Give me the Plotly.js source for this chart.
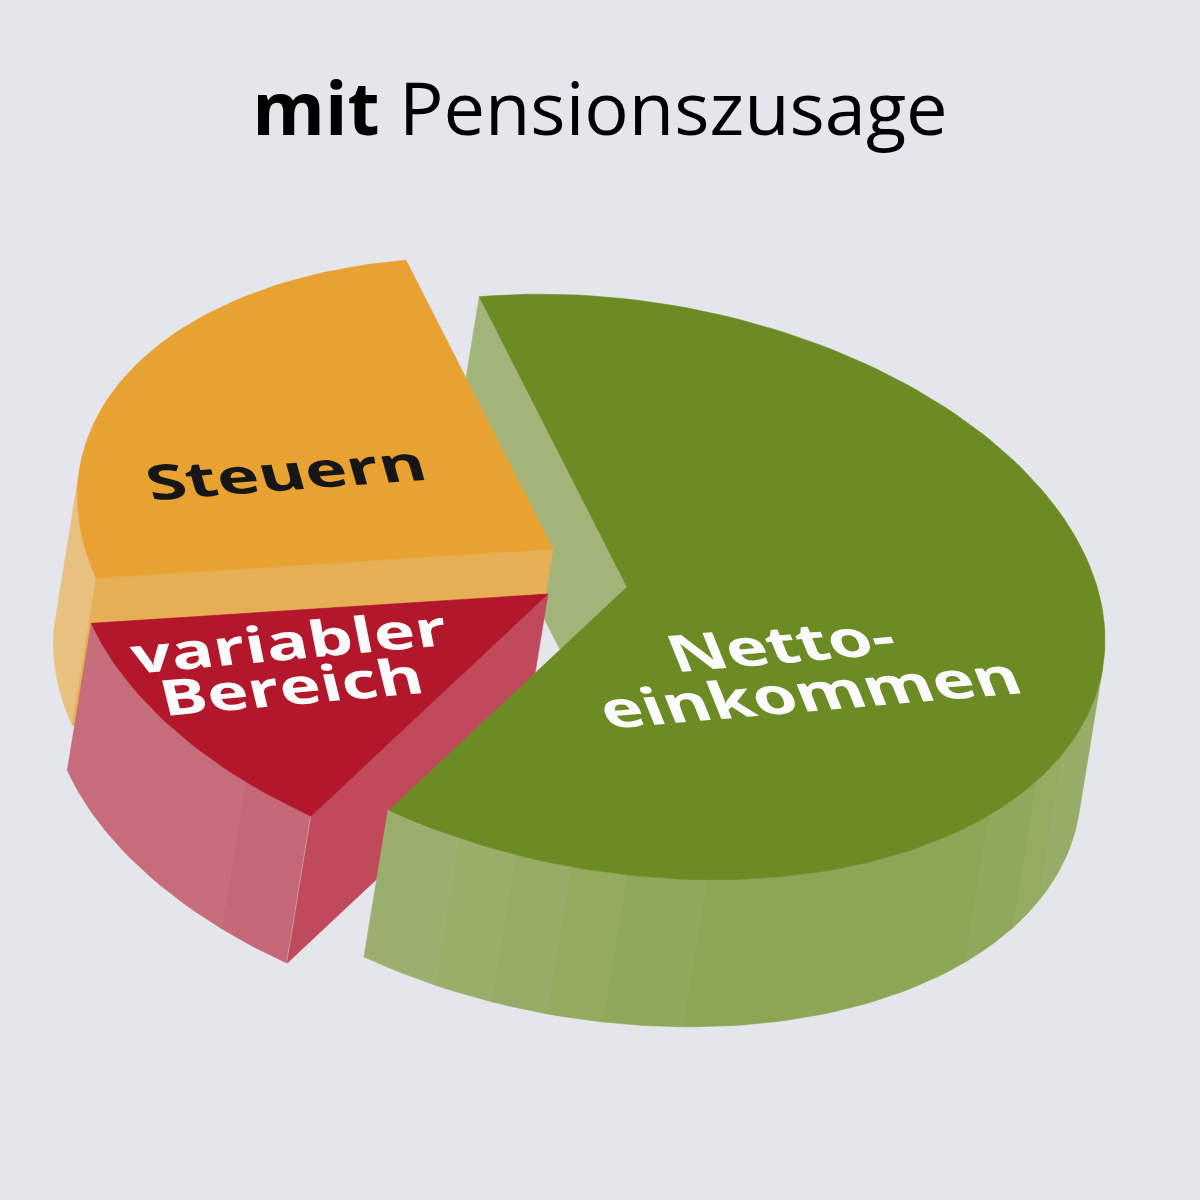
<!DOCTYPE html>
<html>
<head>
<meta charset="utf-8">
<script src="https://cdn.plot.ly/plotly-3.0.1.min.js"></script>
<style>html,body{margin:0;padding:0;background:#e4e6ec}</style>
</head>
<body>
<div id="chart" style="width:1200px;height:1200px"></div>
<script>
// Data
const sliceNames = ["Nettoeinkommen", "variabler Bereich", "Steuern"];
const sliceShares = [63.3, 12.2, 24.5];
const titleText = "<b>mit</b> Pensionszusage";
const labelLines = ["Steuern", "variabler", "Bereich", "Netto-", "einkommen"];
const labelColors = ["#161616", "#fbfbfb", "#fbfbfb", "#fbfbfb", "#fbfbfb"];

// Lighter facets of the green and red outer walls (rim angle in degrees, colour)
const greenFacetStops = [120, 110.7, 103.5, 96.8, 90, 80.4, 40.6, 30.9, 24, 5.5];
const greenFacetColors = ["#9cae6d", "#9aae6a", "#97ab66", "#93aa5f", "#90a85b", "#8da656", "#90a85b", "#94ab60", "#97ac66"];
const redFacetStops = [120, 129.6, 164];
const redFacetColors = ["#c46877", "#c76c7b"];

// Projection of the pie plane onto the picture
const U = [478, 53], V = [0, 288], DEPTH = [-24, 147];
const startAngle = -108;
const total = sliceShares.reduce((a, b) => a + b, 0);
const greenEnd = startAngle + 360 * sliceShares[0] / total;
const redEnd = greenEnd + 360 * sliceShares[1] / total;
const orangeEnd = redEnd + 360 * sliceShares[2] / total;

const centres = { green: [627, 587, 1], red: [548, 594, 0.995], orange: [553, 549, 0.995] };
const rad = d => d * Math.PI / 180;
const rim = (c, t) => [c[0] + c[2] * (U[0] * Math.cos(rad(t)) + V[0] * Math.sin(rad(t))),
                       c[1] + c[2] * (U[1] * Math.cos(rad(t)) + V[1] * Math.sin(rad(t)))];
const down = p => [p[0] + DEPTH[0], p[1] + DEPTH[1]];
function arc(c, a, b) {
  const n = Math.max(2, Math.ceil(Math.abs(b - a) / 1.5)), out = [];
  for (let i = 0; i <= n; i++) out.push(rim(c, a + (b - a) * i / n));
  return out;
}
function poly(points, color, name) {
  const pts = points.concat([points[0]]);
  return { type: "scatter", mode: "lines", x: pts.map(p => p[0]), y: pts.map(p => p[1]),
    fill: "toself", fillcolor: color, line: { color: color, width: 0.6 },
    hoverinfo: "skip", showlegend: false, name: name };
}
const topFace = (c, a, b, col, n) => poly([c.slice(0, 2)].concat(arc(c, a, b)), col, n);
const wall = (c, a, b, col, n) => { const t = arc(c, a, b); return poly(t.concat(t.slice().reverse().map(down)), col, n); };
const cut = (c, t, col, n) => { const p = rim(c, t), o = c.slice(0, 2); return poly([o, p, down(p), down(o)], col, n); };

const traces = [];
traces.push(cut(centres.green, startAngle, "#a3b47b", sliceNames[0]));
traces.push(wall(centres.orange, redEnd, 186, "#e8c07f", sliceNames[2]));
traces.push(cut(centres.orange, redEnd, "#e6ae55", sliceNames[2]));
traces.push(topFace(centres.orange, redEnd, orangeEnd, "#e7a232", sliceNames[2]));
redFacetColors.forEach((col, i) => traces.push(wall(centres.red, redFacetStops[i], i === redFacetColors.length - 1 ? redEnd : redFacetStops[i + 1], col, sliceNames[1])));
traces.push(cut(centres.red, greenEnd, "#c04a5c", sliceNames[1]));
traces.push(topFace(centres.red, greenEnd, redEnd, "#b2172b", sliceNames[1]));
greenFacetColors.forEach((col, i) => traces.push(wall(centres.green, greenFacetStops[i], greenFacetStops[i + 1], col, sliceNames[0])));
traces.push(topFace(centres.green, startAngle, greenEnd, "#6d8b25", sliceNames[0]));

// Label placement: centre, target width, baseline slope, lean, height
const labelPlace = [
  { x: 285, y: 471, w: 278, slope: -0.075, lean: 0.28, h: 1.0 },
  { x: 288, y: 640, w: 315, slope: -0.092, lean: 0.20, h: 1.02 },
  { x: 291, y: 685, w: 262, slope: -0.088, lean: 0.25, h: 1.02 },
  { x: 780, y: 643, w: 224, slope: -0.086, lean: 0.42, h: 1.04 },
  { x: 809, y: 691, w: 418, slope: -0.086, lean: 0.42, h: 1.04 }
];
const annotations = labelLines.map((t, i) => ({
  text: t, x: labelPlace[i].x, y: labelPlace[i].y, xref: "x", yref: "y",
  showarrow: false, xanchor: "center", yanchor: "middle",
  font: { family: "Open Sans", size: 48, weight: 700, color: labelColors[i] }
}));

const layout = {
  width: 1200, height: 1200, margin: { l: 0, r: 0, t: 0, b: 0 },
  paper_bgcolor: "#e4e6ec", plot_bgcolor: "#e4e6ec", showlegend: false,
  title: { text: titleText, x: 0.5, xanchor: "center", y: 0.909, yanchor: "middle",
           font: { family: "Open Sans", size: 74, color: "#000000" } },
  xaxis: { range: [0, 1200], visible: false, fixedrange: true },
  yaxis: { range: [1200, 0], visible: false, fixedrange: true },
  annotations: annotations
};

Plotly.newPlot("chart", traces, layout, { displayModeBar: false, staticPlot: true }).then(() => {
  // The labels lie on the tilted pie plane: shear each one into it.
  document.querySelectorAll("#chart .annotation-text").forEach((el, i) => {
    const p = labelPlace[i], b = el.getBBox();
    const cx = b.x + b.width / 2, cy = b.y + b.height / 2;
    const a = p.w / b.width;
    el.setAttribute("transform",
      `translate(${cx} ${cy}) matrix(${a} ${a * p.slope} ${p.lean} ${p.h} 0 0) translate(${-cx} ${-cy})`);
  });
});
</script>
</body>
</html>
